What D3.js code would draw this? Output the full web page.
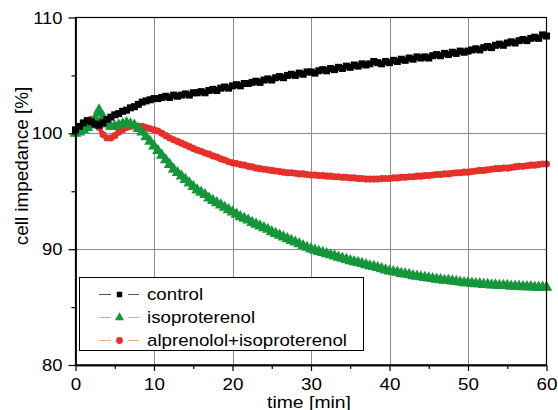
<!DOCTYPE html>
<html>
<head>
<meta charset="utf-8">
<script src="https://cdn.jsdelivr.net/npm/d3@7"></script>
<style>
  body { margin: 0; background: #fff; }
  text { font-family: "Liberation Sans", Arial, sans-serif; fill: #000; }
</style>
</head>
<body>
<script>
// sampling interval of the recorded traces (min)
var tStep = 0.5;

var seriesNames = ["control", "isoproterenol", "alprenolol+isoproterenol"];

var control = [
  100.3, 100.6, 100.9, 101.1, 101.0, 100.8, 100.7, 100.9, 101.2, 101.4, 101.6,
  101.7, 101.9, 102.0, 102.2, 102.3, 102.5, 102.7, 102.8, 102.9, 103.0,
  103.0, 103.1, 103.2, 103.1, 103.3, 103.2, 103.3, 103.4, 103.3, 103.5,
  103.5, 103.6, 103.5, 103.7, 103.8, 103.7, 103.9, 104.0, 103.9, 104.1,
  104.2, 104.1, 104.3, 104.3, 104.4, 104.5, 104.4, 104.6, 104.7, 104.6,
  104.8, 104.9, 104.8, 105.0, 105.1, 105.0, 105.2, 105.1, 105.3, 105.3,
  105.2, 105.4, 105.5, 105.4, 105.6, 105.5, 105.7, 105.6, 105.8, 105.7,
  105.9, 105.8, 106.0, 105.9, 106.0, 106.2, 106.1, 106.0, 106.2, 106.1,
  106.3, 106.2, 106.4, 106.3, 106.5, 106.4, 106.6, 106.5, 106.6, 106.5,
  106.7, 106.8, 106.7, 106.9, 106.8, 107.0, 106.9, 107.1, 107.0, 107.1,
  107.2, 107.3, 107.2, 107.4, 107.5, 107.4, 107.6, 107.7, 107.6, 107.8,
  107.9, 107.8, 108.0, 108.1, 108.0, 108.2, 108.3, 108.2, 108.5, 108.4
];

var isoproterenol = [
  100.0, 100.1, 100.3, 100.5, 100.7, 101.3, 102.0, 101.4, 100.8, 100.6, 100.6,
  100.7, 100.8, 100.9, 100.8, 100.7, 100.4, 100.1, 99.7, 99.3, 98.9,
  98.5, 98.1, 97.7, 97.3, 96.9, 96.6, 96.3, 96.0, 95.7, 95.4,
  95.1, 94.9, 94.7, 94.4, 94.2, 94.0, 93.8, 93.6, 93.4, 93.2,
  93.0, 92.8, 92.65, 92.5, 92.3, 92.15, 92.0, 91.85, 91.7, 91.5,
  91.35, 91.2, 91.05, 90.9, 90.75, 90.6, 90.45, 90.3, 90.15, 90.0,
  89.9, 89.8, 89.7, 89.6, 89.5, 89.4, 89.3, 89.2, 89.1, 89.0,
  88.9, 88.85, 88.75, 88.65, 88.55, 88.5, 88.4, 88.3, 88.2, 88.1,
  88.05, 88.0, 87.9, 87.85, 87.8, 87.7, 87.65, 87.6, 87.55, 87.5,
  87.45, 87.4, 87.35, 87.3, 87.3, 87.25, 87.2, 87.15, 87.1, 87.1,
  87.05, 87.0, 87.0, 86.95, 86.95, 86.9, 86.9, 86.85, 86.85, 86.85,
  86.8, 86.8, 86.8, 86.75, 86.75, 86.75, 86.7, 86.7, 86.7, 86.7
];

var alprenolol = [
  100.0, 100.3, 100.7, 101.0, 101.2, 101.0, 100.5, 99.9, 99.6, 99.6, 99.8,
  100.1, 100.3, 100.5, 100.6, 100.65, 100.6, 100.6, 100.5, 100.4, 100.3,
  100.2, 100.0, 99.8, 99.6, 99.45, 99.3, 99.15, 99.0, 98.85, 98.7,
  98.55, 98.45, 98.3, 98.2, 98.05, 97.95, 97.8, 97.7, 97.55, 97.45,
  97.4, 97.3, 97.25, 97.15, 97.1, 97.0, 96.95, 96.9, 96.85, 96.8,
  96.75, 96.7, 96.65, 96.6, 96.6, 96.55, 96.5, 96.5, 96.45, 96.4,
  96.4, 96.35, 96.35, 96.3, 96.3, 96.25, 96.25, 96.2, 96.2, 96.15,
  96.15, 96.1, 96.1, 96.05, 96.05, 96.05, 96.05, 96.1, 96.1, 96.1,
  96.15, 96.15, 96.2, 96.2, 96.25, 96.25, 96.3, 96.3, 96.35, 96.35,
  96.4, 96.45, 96.45, 96.5, 96.5, 96.55, 96.6, 96.6, 96.65, 96.65,
  96.7, 96.75, 96.8, 96.8, 96.85, 96.9, 96.95, 96.95, 97.0, 97.0,
  97.05, 97.1, 97.15, 97.15, 97.2, 97.25, 97.25, 97.3, 97.35, 97.35
];

var xTicks = [0, 10, 20, 30, 40, 50, 60];
var xMinor = [5, 15, 25, 35, 45, 55];
var yTicks = [80, 90, 100, 110];
var yMinor = [85, 95, 105];

var w = 558;
var h = 410;

var xScale = d3.scaleLinear().domain([0, 60]).range([75.5, 546.5]);
var yScale = d3.scaleLinear().domain([80, 110]).range([365, 17.5]);

var svg = d3.select("body")
    .append("svg")
    .attr("width", w)
    .attr("height", h)
    .style("background-color", "#fff");

/* grid lines inside the plot */
svg.append("g")
    .selectAll("line")
    .data(xTicks.slice(1, -1))
    .enter()
    .append("line")
    .attr("x1", function(d){ return Math.round(xScale(d)) + 0.5; })
    .attr("x2", function(d){ return Math.round(xScale(d)) + 0.5; })
    .attr("y1", yScale(110))
    .attr("y2", yScale(80))
    .attr("stroke", "#8c8c8c")
    .attr("stroke-width", 1);

svg.append("g")
    .selectAll("line")
    .data([90, 100])
    .enter()
    .append("line")
    .attr("x1", xScale(0))
    .attr("x2", xScale(60))
    .attr("y1", function(d){ return Math.round(yScale(d)) + 0.5; })
    .attr("y2", function(d){ return Math.round(yScale(d)) + 0.5; })
    .attr("stroke", "#8c8c8c")
    .attr("stroke-width", 1);

/* data traces */
var traces = [
    { values: alprenolol, color: "#e5302b", shape: d3.symbolCircle, size: 40 },
    { values: isoproterenol, color: "#16963a", shape: d3.symbolTriangle, size: 60 },
    { values: control, color: "#000000", shape: d3.symbolSquare, size: 49 }
];

traces.forEach(function(tr){
    var pts = tr.values.map(function(v, i){ return [i * tStep, v]; });
    svg.append("path")
        .datum(pts)
        .attr("fill", "none")
        .attr("stroke", tr.color)
        .attr("stroke-width", 4.5)
        .attr("d", d3.line()
            .x(function(d){ return xScale(d[0]); })
            .y(function(d){ return yScale(d[1]); }));
    svg.append("g")
        .selectAll("path")
        .data(pts)
        .enter()
        .append("path")
        .attr("transform", function(d){
            return "translate(" + xScale(d[0]) + "," + yScale(d[1]) + ")";
        })
        .attr("d", d3.symbol().type(tr.shape).size(tr.size))
        .attr("fill", tr.color);
});

/* frame */
svg.append("rect")
    .attr("x", xScale(0))
    .attr("y", yScale(110))
    .attr("width", xScale(60) - xScale(0))
    .attr("height", yScale(80) - yScale(110))
    .attr("fill", "none")
    .attr("stroke", "#000")
    .attr("stroke-width", 1.2);

/* axes */
var xAxis = svg.append("g")
    .attr("transform", "translate(0," + yScale(80) + ")")
    .call(d3.axisBottom(xScale).tickValues(xTicks).tickSize(6).tickSizeOuter(0));
svg.append("g")
    .attr("transform", "translate(0," + yScale(80) + ")")
    .call(d3.axisBottom(xScale).tickValues(xMinor).tickSize(4).tickSizeOuter(0).tickFormat(""));

var yAxis = svg.append("g")
    .attr("transform", "translate(" + xScale(0) + ",0)")
    .call(d3.axisLeft(yScale).tickValues(yTicks).tickSize(7).tickSizeOuter(0));
svg.append("g")
    .attr("transform", "translate(" + xScale(0) + ",0)")
    .call(d3.axisLeft(yScale).tickValues(yMinor).tickSize(4).tickSizeOuter(0).tickFormat(""));

svg.selectAll(".domain").attr("stroke", "#000").attr("stroke-width", 1.4);
svg.selectAll(".tick line").attr("stroke", "#000").attr("stroke-width", 1.2);

xAxis.selectAll("text")
    .attr("font-size", 16.5)
    .attr("font-family", "Liberation Sans, Arial, sans-serif")
    .attr("y", 0)
    .attr("dy", 0)
    .attr("transform", "translate(0,24.5) scale(1.14,1)");

yAxis.selectAll("text")
    .attr("font-size", 16)
    .attr("font-family", "Liberation Sans, Arial, sans-serif")
    .attr("x", 0)
    .attr("dy", 0)
    .attr("transform", "translate(-13,5.5) scale(1.15,1)");

/* axis titles */
svg.append("text")
    .attr("text-anchor", "middle")
    .attr("font-size", 17)
    .attr("transform", "translate(309,407.5) scale(1.14,1)")
    .text("time [min]");

svg.append("text")
    .attr("text-anchor", "middle")
    .attr("font-size", 18)
    .attr("transform", "translate(28,166) rotate(-90) scale(1.05,1)")
    .text("cell impedance [%]");

/* legend */
var legend = svg.append("g");
legend.append("rect")
    .attr("x", 79.5)
    .attr("y", 277.5)
    .attr("width", 284)
    .attr("height", 73)
    .attr("fill", "#fff")
    .attr("stroke", "#000")
    .attr("stroke-width", 1);

var legendItems = [
    { name: seriesNames[0], color: "#000", line: "#555", shape: d3.symbolSquare, size: 30 },
    { name: seriesNames[1], color: "#16963a", line: "#8ccf98", shape: d3.symbolTriangle, size: 36 },
    { name: seriesNames[2], color: "#e5302b", line: "#f2a68a", shape: d3.symbolCircle, size: 36 }
];

legendItems.forEach(function(it, i){
    var cy = 294 + i * 23;
    legend.append("line")
        .attr("x1", 99).attr("x2", 111)
        .attr("y1", cy + 0.5).attr("y2", cy + 0.5)
        .attr("stroke", it.line).attr("stroke-width", 1);
    legend.append("line")
        .attr("x1", 128).attr("x2", 139)
        .attr("y1", cy + 0.5).attr("y2", cy + 0.5)
        .attr("stroke", it.line).attr("stroke-width", 1);
    legend.append("path")
        .attr("transform", "translate(119.5," + (cy + 0.5) + ")")
        .attr("d", d3.symbol().type(it.shape).size(it.size))
        .attr("fill", it.color);
    legend.append("text")
        .attr("font-size", 17)
        .attr("transform", "translate(147," + (cy + 6) + ") scale(1.1,1)")
        .text(it.name);
});
</script>
</body>
</html>
